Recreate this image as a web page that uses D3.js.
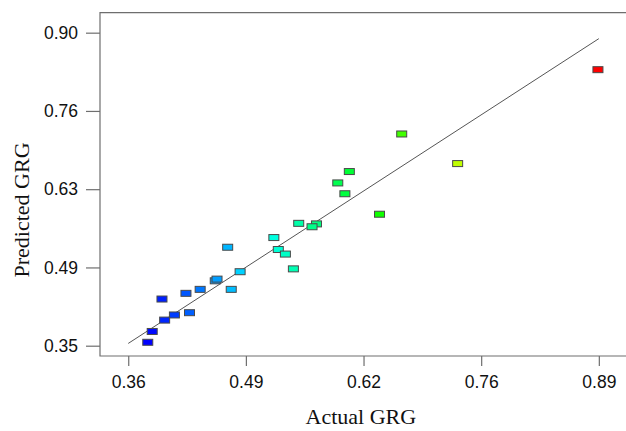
<!DOCTYPE html>
<html lang="en">
<head>
    <meta charset="UTF-8">
    <title>Predicted vs Actual GRG</title>
    <script src="https://cdn.jsdelivr.net/npm/d3@7"></script>
    <style>
        body { margin: 0; background: #fff; }
    </style>
</head>
<body>
    <svg width="626" height="431" id="mainsvg"></svg>
    <script>
        // values
        const actual = [0.887, 0.666, 0.729, 0.607, 0.594, 0.602, 0.641, 0.550, 0.570, 0.565,
                        0.522, 0.527, 0.535, 0.544, 0.470, 0.484, 0.456, 0.458, 0.474, 0.439,
                        0.423, 0.396, 0.427, 0.410, 0.399, 0.385, 0.380];
        const predicted = [0.835, 0.722, 0.670, 0.656, 0.636, 0.617, 0.581, 0.565, 0.564, 0.559,
                           0.540, 0.519, 0.511, 0.485, 0.523, 0.480, 0.464, 0.467, 0.449, 0.449,
                           0.442, 0.432, 0.408, 0.404, 0.395, 0.375, 0.356];
        const xTicks = [0.358, 0.4905, 0.623, 0.7555, 0.888];
        const xTickLabels = ['0.36', '0.49', '0.62', '0.76', '0.89'];
        const yTicks = [0.35, 0.4875, 0.625, 0.7625, 0.90];
        const yTickLabels = ['0.35', '0.49', '0.63', '0.76', '0.90'];

        const svg = d3.select('#mainsvg');
        const margin = { top: 12.7, right: 0, bottom: 75, left: 100 };
        const width = +svg.attr('width');
        const height = +svg.attr('height');
        const innerWidth = width - margin.left - margin.right;
        const innerHeight = height - margin.top - margin.bottom;

        const x = d3.scaleLinear().domain([0.3262, 0.9186]).range([0, innerWidth]);
        const y = d3.scaleLinear().domain([0.3319, 0.9351]).range([innerHeight, 0]);

        const g = svg.append('g')
            .attr('transform', `translate(${margin.left},${margin.top})`);

        // frame: left, top and bottom (right side falls off the picture)
        g.append('path')
            .attr('d', `M${innerWidth},0H0V${innerHeight}H${innerWidth}`)
            .attr('fill', 'none')
            .attr('stroke', '#6e6e6e')
            .attr('stroke-width', 1.2);

        const xAxis = d3.axisBottom(x).tickValues(xTicks)
            .tickFormat((d, i) => xTickLabels[i]).tickSize(10).tickPadding(10);
        const yAxis = d3.axisLeft(y).tickValues(yTicks)
            .tickFormat((d, i) => yTickLabels[i]).tickSize(14).tickPadding(8);

        const xg = g.append('g').attr('transform', `translate(0,${innerHeight})`).call(xAxis);
        const yg = g.append('g').call(yAxis);
        [xg, yg].forEach(a => {
            a.select('.domain').remove();
            a.selectAll('line').attr('stroke', '#6e6e6e').attr('stroke-width', 1.2);
            a.selectAll('text')
                .attr('fill', '#111')
                .style('font-family', 'Liberation Sans, Arial, sans-serif')
                .style('font-size', '17.5px');
        });

        // y = x reference line
        const lo = d3.min(actual), hi = d3.max(actual);
        g.append('line')
            .attr('x1', x(0.358)).attr('y1', y(0.354))
            .attr('x2', x(0.888)).attr('y2', y(0.8895))
            .attr('stroke', '#555')
            .attr('stroke-width', 1);

        // colour by actual value, blue -> red
        const hue = d3.scaleLinear().domain([lo, hi]).range([240, 0]);

        g.selectAll('rect.pt')
            .data(actual.map((a, i) => ({ a, p: predicted[i] })))
            .join('rect')
            .attr('class', 'pt')
            .attr('x', d => x(d.a) - 5)
            .attr('y', d => y(d.p) - 3)
            .attr('width', 10)
            .attr('height', 6)
            .attr('fill', d => d3.hsl(hue(d.a), 1, 0.5))
            .attr('stroke', '#4a4a4a')
            .attr('stroke-width', 1);

        // axis titles
        svg.append('text')
            .attr('x', margin.left + x(0.62))
            .attr('y', 424)
            .attr('text-anchor', 'middle')
            .style('font-family', 'Liberation Serif, Times New Roman, serif')
            .style('font-size', '22px')
            .attr('fill', '#111')
            .text('Actual GRG');

        svg.append('text')
            .attr('transform', 'translate(29,210) rotate(-90)')
            .attr('text-anchor', 'middle')
            .style('font-family', 'Liberation Serif, Times New Roman, serif')
            .style('font-size', '22px')
            .attr('fill', '#111')
            .text('Predicted GRG');
    </script>
</body>
</html>
